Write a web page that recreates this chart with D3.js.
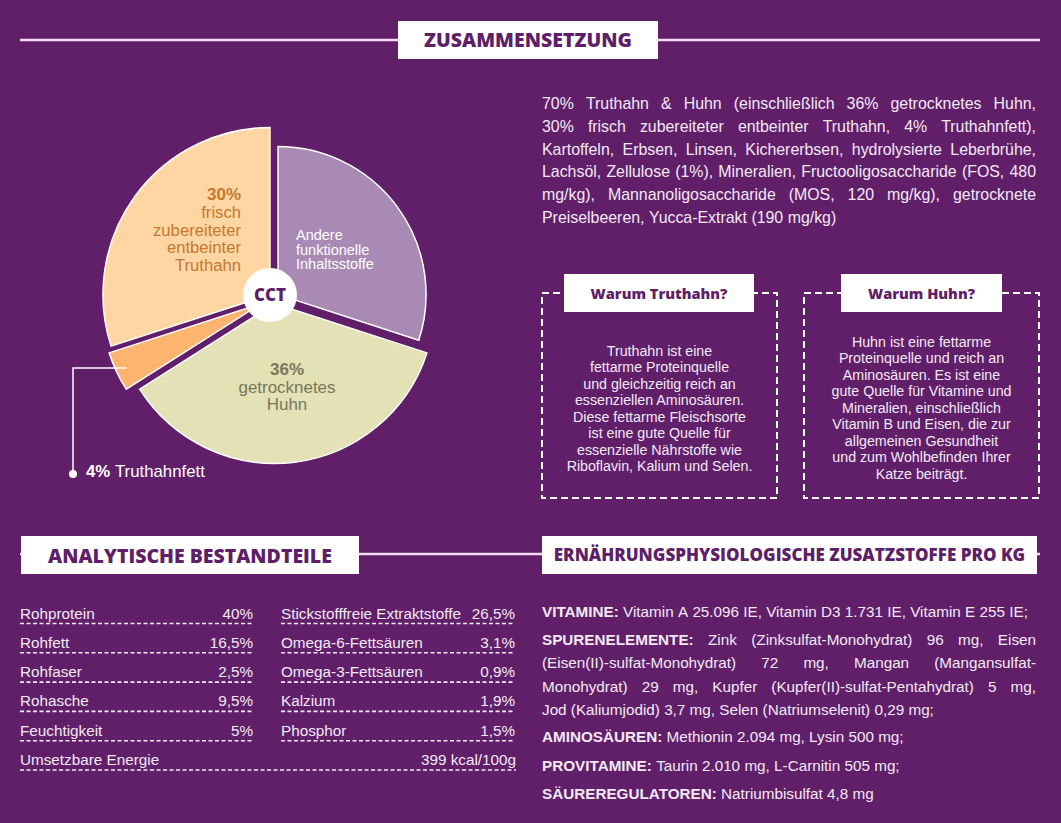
<!DOCTYPE html>
<html><head><meta charset="utf-8">
<script src="https://cdn.jsdelivr.net/npm/d3@7"></script>
<style>
html,body{margin:0;padding:0;background:#611F69;}
svg{display:block;font-family:"Liberation Sans",Arial,sans-serif;}
</style></head>
<body>
<script>
// ---------- DATA ----------
const pieCategories = ["Andere funktionelle Inhaltsstoffe", "getrocknetes Huhn", "Truthahnfett", "frisch zubereiteter entbeinter Truthahn"];
const pieValues = [30, 36, 4, 30];
const pieLabelLines = [
  ["Andere", "funktionelle", "Inhaltsstoffe"],
  ["36%", "getrocknetes", "Huhn"],
  ["4%", "Truthahnfett"],
  ["30%", "frisch", "zubereiteter", "entbeinter", "Truthahn"]
];
const centerLabel = "CCT";

const compositionLines = [
  "70% Truthahn & Huhn (einschließlich 36% getrocknetes Huhn,",
  "30% frisch zubereiteter entbeinter Truthahn, 4% Truthahnfett),",
  "Kartoffeln, Erbsen, Linsen, Kichererbsen, hydrolysierte Leberbrühe,",
  "Lachsöl, Zellulose (1%), Mineralien, Fructooligosaccharide (FOS, 480",
  "mg/kg), Mannanoligosaccharide (MOS, 120 mg/kg), getrocknete",
  "Preiselbeeren, Yucca-Extrakt (190 mg/kg)"
];

const whyTitles = ["Warum Truthahn?", "Warum Huhn?"];
const whyTurkeyLines = ["Truthahn ist eine", "fettarme Proteinquelle", "und gleichzeitig reich an", "essenziellen Aminosäuren.", "Diese fettarme Fleischsorte", "ist eine gute Quelle für", "essenzielle Nährstoffe wie", "Riboflavin, Kalium und Selen."];
const whyChickenLines = ["Huhn ist eine fettarme", "Proteinquelle und reich an", "Aminosäuren. Es ist eine", "gute Quelle für Vitamine und", "Mineralien, einschließlich", "Vitamin B und Eisen, die zur", "allgemeinen Gesundheit", "und zum Wohlbefinden Ihrer", "Katze beiträgt."];

const sectionTitles = ["ZUSAMMENSETZUNG", "ANALYTISCHE BESTANDTEILE", "ERNÄHRUNGSPHYSIOLOGISCHE ZUSATZSTOFFE PRO KG"];

const analyticsLeftNames = ["Rohprotein", "Rohfett", "Rohfaser", "Rohasche", "Feuchtigkeit"];
const analyticsLeftValues = ["40%", "16,5%", "2,5%", "9,5%", "5%"];
const analyticsRightNames = ["Stickstofffreie Extraktstoffe", "Omega-6-Fettsäuren", "Omega-3-Fettsäuren", "Kalzium", "Phosphor"];
const analyticsRightValues = ["26,5%", "3,1%", "0,9%", "1,9%", "1,5%"];
const energyName = "Umsetzbare Energie";
const energyValue = "399 kcal/100g";

const additiveLabels = ["VITAMINE:", "SPURENELEMENTE:", "AMINOSÄUREN:", "PROVITAMINE:", "SÄUREREGULATOREN:"];
const additiveLines = [
  ["Vitamin A 25.096 IE, Vitamin D3 1.731 IE, Vitamin E 255 IE;"],
  ["Zink (Zinksulfat-Monohydrat) 96 mg, Eisen", "(Eisen(II)-sulfat-Monohydrat) 72 mg, Mangan (Mangansulfat-", "Monohydrat) 29 mg, Kupfer (Kupfer(II)-sulfat-Pentahydrat) 5 mg,", "Jod (Kaliumjodid) 3,7 mg, Selen (Natriumselenit) 0,29 mg;"],
  ["Methionin 2.094 mg, Lysin 500 mg;"],
  ["Taurin 2.010 mg, L-Carnitin 505 mg;"],
  ["Natriumbisulfat 4,8 mg"]
];

// ---------- STYLE ----------
const W = 1061, H = 823;
const BG = "#611F69", PURPLE_TXT = "#5E1F68", TXT = "#F3E9F5", LINE = "#F4DDF4";
const HEAD_FONT = "'Open Sans',sans-serif";
const GAP_EM = 0.28;
const pieColors = ["#A88AB5", "#E3E1B5", "#FDB46E", "#FDD6A4"];
const pieRadii = [148, 160, 160, 167];
const pieExplode = [5, 6, 14, 5];
const pieCenter = [274, 297.5];

const svg = d3.select("body").append("svg").attr("width", W).attr("height", H);
svg.append("rect").attr("width", W).attr("height", H).attr("fill", BG);

// ---------- measuring ----------
function measure(str, weight, family) {
  const t = svg.append("text").attr("font-size", 100).attr("font-weight", weight).text(str);
  if (family) t.attr("font-family", family);
  const w = t.node().getComputedTextLength();
  t.remove();
  return w;
}
function fitSize(str, weight, target, family) { return 100 * target / measure(str, weight, family); }
// natural width at 100px of a token line (words + normal spaces)
function tokensWidth100(tokens) {
  return d3.sum(tokens, t => measure(t.text, t.bold ? 700 : 400)) + (tokens.length - 1) * GAP_EM * 100;
}
function fitTokens(tokens, target) { return 100 * target / tokensWidth100(tokens); }
const words = (s, bold) => s.split(" ").map(w => ({ text: w, bold: !!bold }));

// ---------- helpers ----------
function header(title, bx, by, bw, bh, targetW, baseline) {
  const size = fitSize(title, 800, targetW, HEAD_FONT);
  svg.append("rect").attr("x", bx).attr("y", by).attr("width", bw).attr("height", bh).attr("fill", "#fff");
  svg.append("text").attr("x", bx + bw / 2).attr("y", baseline).attr("text-anchor", "middle").attr("font-family", HEAD_FONT)
    .attr("font-size", size).attr("font-weight", 800).attr("fill", PURPLE_TXT).text(title);
}
function layoutLine(g, tokens, x, y, width, justify, size, color) {
  const nodes = tokens.map(t => g.append("text").attr("y", y).attr("font-size", size)
    .attr("font-weight", t.bold ? 700 : 400).attr("fill", color).text(t.text));
  const widths = nodes.map(n => n.node().getComputedTextLength());
  const total = d3.sum(widths);
  const gap = justify && tokens.length > 1 ? (width - total) / (tokens.length - 1) : size * GAP_EM;
  let cx = x;
  nodes.forEach((n, i) => { n.attr("x", cx); cx += widths[i] + gap; });
}

// ---------- section lines ----------
svg.append("line").attr("x1", 20).attr("x2", 1040).attr("y1", 40).attr("y2", 40).attr("stroke", LINE).attr("stroke-width", 2.5);
svg.append("line").attr("x1", 20).attr("x2", 1040).attr("y1", 554).attr("y2", 554).attr("stroke", LINE).attr("stroke-width", 2.5);
header(sectionTitles[0], 398, 21, 260, 38, 208, 47);
header(sectionTitles[1], 21, 536, 338, 38, 284, 563);
header(sectionTitles[2], 542, 536, 495, 38, 472, 561);

// ---------- PIE ----------
const pieG = svg.append("g").attr("transform", `translate(${pieCenter[0]},${pieCenter[1]})`);
const arcs = d3.pie().sort(null).value(d => d)(pieValues);
arcs.forEach((a, i) => {
  const mid = (a.startAngle + a.endAngle) / 2;
  const dx = Math.sin(mid) * pieExplode[i], dy = -Math.cos(mid) * pieExplode[i];
  const arc = d3.arc().innerRadius(0).outerRadius(pieRadii[i]);
  pieG.append("path").attr("d", arc(a)).attr("transform", `translate(${dx},${dy})`)
    .attr("fill", pieColors[i]).attr("stroke", "#fff").attr("stroke-width", 1.5).attr("stroke-linejoin", "miter");
});
// labels
const lbl = svg.append("g");
const pctSize = fitSize("30%", 700, 34);
const orangeSize = fitSize("zubereiteter", 400, 88);
[[pctSize, 700, 200], [orangeSize, 400, 218], [orangeSize, 400, 235.5], [orangeSize, 400, 253], [orangeSize, 400, 270.5]]
  .forEach((r, i) => lbl.append("text").attr("x", 241).attr("y", r[2]).attr("text-anchor", "end")
    .attr("font-size", r[0]).attr("font-weight", r[1]).attr("fill", "#C8772F").text(pieLabelLines[3][i]));
const andereSize = fitSize("Inhaltsstoffe", 400, 78);
[240, 254.5, 269].forEach((y, i) => lbl.append("text").attr("x", 296).attr("y", y).attr("font-size", andereSize)
  .attr("fill", "#fff").text(pieLabelLines[0][i]));
const greenSize = fitSize("getrocknetes", 400, 97);
[[pctSize, 700, 375], [greenSize, 400, 392.5], [greenSize, 400, 410]]
  .forEach((r, i) => lbl.append("text").attr("x", 287).attr("y", r[2]).attr("text-anchor", "middle")
    .attr("font-size", r[0]).attr("font-weight", r[1]).attr("fill", "#78775A").text(pieLabelLines[1][i]));
// leader for 4%
svg.append("polyline").attr("points", "126,368 73,368 73,474").attr("fill", "none").attr("stroke", "#fff").attr("stroke-width", 1.5);
svg.append("circle").attr("cx", 73).attr("cy", 474).attr("r", 4).attr("fill", "#fff");
const fatSize = fitSize("Truthahnfett", 400, 90);
const fat = svg.append("text").attr("x", 86).attr("y", 477).attr("font-size", fatSize).attr("fill", "#fff");
fat.append("tspan").attr("font-weight", 700).text(pieLabelLines[2][0] + " ");
fat.append("tspan").attr("font-weight", 400).text(pieLabelLines[2][1]);
// center
svg.append("circle").attr("cx", 270).attr("cy", 295).attr("r", 27).attr("fill", "#fff");
svg.append("text").attr("x", 270).attr("y", 301).attr("text-anchor", "middle").attr("font-family", HEAD_FONT)
  .attr("font-size", fitSize(centerLabel, 800, 32, HEAD_FONT))
  .attr("font-weight", 800).attr("fill", PURPLE_TXT).text(centerLabel);

// ---------- composition paragraph ----------
const comp = svg.append("g");
const compSize = Math.min(fitSize(compositionLines[5], 400, 306),
  d3.min(compositionLines.slice(0, 5), l => fitTokens(words(l), 490)));
compositionLines.forEach((l, i) => layoutLine(comp, words(l), 542, 109 + i * 22.8, 494, i < compositionLines.length - 1, compSize, TXT));

// ---------- why boxes ----------
const whySize = fitSize("Riboflavin, Kalium und Selen.", 400, 186);
const whyTitleSize = fitSize(whyTitles[0], 800, 137, HEAD_FONT);
function whyBox(x, w, title, lines, y0, tx0, tw) {
  svg.append("rect").attr("x", x).attr("y", 293).attr("width", w).attr("height", 205).attr("fill", "none")
    .attr("stroke", "#fff").attr("stroke-width", 2).attr("stroke-dasharray", "7,4");
  svg.append("rect").attr("x", tx0).attr("y", 274).attr("width", tw).attr("height", 38).attr("fill", "#fff");
  svg.append("text").attr("x", tx0 + tw / 2).attr("y", 298.5).attr("text-anchor", "middle").attr("font-family", HEAD_FONT)
    .attr("font-size", whyTitleSize).attr("font-weight", 800).attr("fill", PURPLE_TXT).text(title);
  lines.forEach((l, i) => svg.append("text").attr("x", x + w / 2).attr("y", y0 + i * 16.55).attr("text-anchor", "middle")
    .attr("font-size", whySize).attr("fill", TXT).text(l));
}
whyBox(542, 235, whyTitles[0], whyTurkeyLines, 355.5, 564, 190);
whyBox(804, 235, whyTitles[1], whyChickenLines, 346.5, 841, 161);

// ---------- analytics table ----------
const tab = svg.append("g");
const tabSize = Math.min(fitSize(energyName, 400, 148), fitSize(analyticsRightNames[0], 400, 180));
function row(x0, x1, y, name, val) {
  tab.append("text").attr("x", x0).attr("y", y).attr("font-size", tabSize).attr("fill", TXT).text(name);
  tab.append("text").attr("x", x1).attr("y", y).attr("text-anchor", "end").attr("font-size", tabSize).attr("fill", TXT).text(val);
  tab.append("line").attr("x1", x0).attr("x2", x1).attr("y1", y + 5).attr("y2", y + 5).attr("stroke", TXT)
    .attr("stroke-width", 1.6).attr("stroke-dasharray", "4,2.5");
}
analyticsLeftNames.forEach((n, i) => row(20, 253, 618.5 + i * 29.3, n, analyticsLeftValues[i]));
analyticsRightNames.forEach((n, i) => row(281, 515, 618.5 + i * 29.3, n, analyticsRightValues[i]));
row(20, 516, 618.5 + 5 * 29.3, energyName, energyValue);

// ---------- additives ----------
const add = svg.append("g");
const addTokens = additiveLabels.map((lab, gi) => additiveLines[gi].map((l, li) =>
  li === 0 ? [{ text: lab, bold: true }].concat(words(l)) : words(l)));
const addSize = Math.min(
  fitTokens(addTokens[0][0], 486),
  fitTokens(addTokens[2][0], 373),
  d3.min(addTokens[1].slice(0, 3), t => fitTokens(t, 490)));
const addBaselines = [[617], [645, 668.3, 691.7, 714.5], [742.3], [771], [799.3]];
addTokens.forEach((group, gi) => {
  group.forEach((toks, li) => {
    const justify = group.length > 1 && li < group.length - 1;
    layoutLine(add, toks, 542, addBaselines[gi][li], 494, justify, addSize, TXT);
  });
});
</script>
</body></html>
